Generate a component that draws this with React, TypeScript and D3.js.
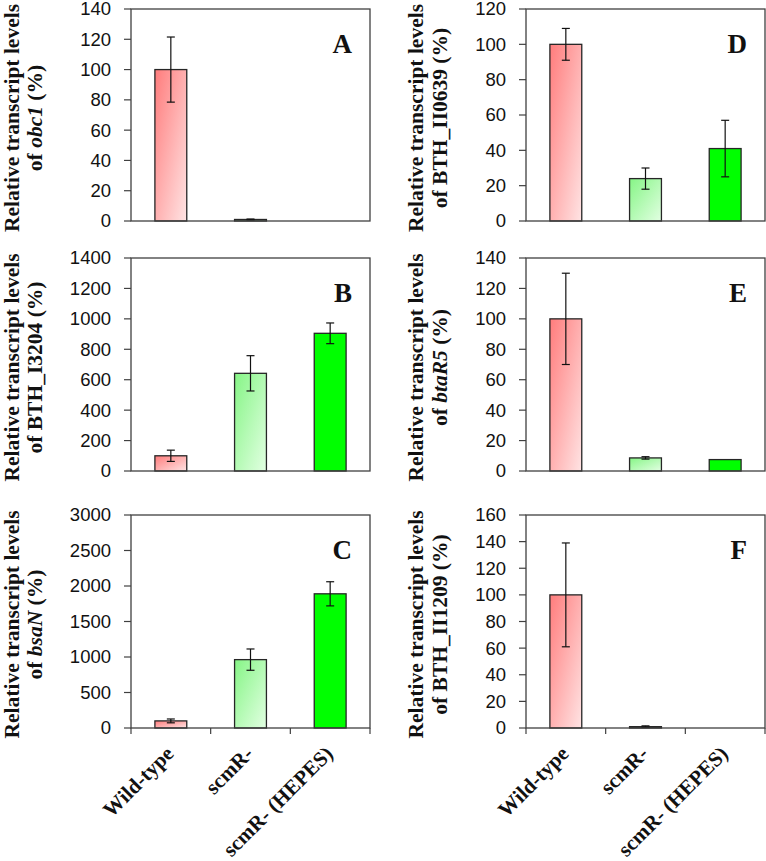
import React from "react";
import * as d3 from "d3";

const categories = ["Wild-type", "scmR-", "scmR- (HEPES)"];
const panelLetters = ["A", "B", "C", "D", "E", "F"];
const geneNames = ["obc1", "BTH_I3204", "bsaN", "BTH_II0639", "btaR5", "BTH_II1209"];
const geneItalic = [true, false, true, false, true, false];
const yMaxes = [140, 1400, 3000, 120, 140, 160];
const ySteps = [20, 200, 500, 20, 20, 20];

const meansA = [100, 1, 0];
const errsA = [21.5, 0.3, 0];
const meansB = [100, 642, 905];
const errsB = [37, 116, 68];
const meansC = [100, 963, 1890];
const errsC = [27, 150, 170];
const meansD = [100, 24, 41];
const errsD = [9, 6, 16];
const meansE = [100, 8.6, 7.5];
const errsE = [30, 0.8, 0];
const meansF = [100, 1, 0];
const errsF = [39, 0.6, 0];

const allMeans = [meansA, meansB, meansC, meansD, meansE, meansF];
const allErrs = [errsA, errsB, errsC, errsD, errsE, errsF];

const W = 766;
const H = 861;
const colLeft = [131, 526];
const plotW = 239;
const rowTop = [9, 258, 515];
const plotH = 213;
const labelBase1 = [19, 423];
const labelBase2 = [42, 447];

const fills = ["url(#gradWT)", "url(#gradScm)", "#00ff00"];
const frameColor = "#404040";
const tickFont = "'Liberation Sans', Arial, sans-serif";
const serif = "'Liberation Serif', 'Times New Roman', serif";

function Panel({ idx }: { idx: number }) {
  const col = idx < 3 ? 0 : 1;
  const row = idx % 3;
  const x0 = colLeft[col];
  const y0 = rowTop[row];
  const h = row === 0 ? plotH - 1 : plotH;
  const x = d3.scaleBand<string>().domain(categories).range([x0, x0 + plotW]).paddingInner(0.6).paddingOuter(0.3);
  const y = d3.scaleLinear().domain([0, yMaxes[idx]]).range([y0 + h, y0]);
  const ticks = d3.range(0, yMaxes[idx] + 0.001, ySteps[idx]);
  const means = allMeans[idx];
  const errs = allErrs[idx];
  const bottom = y0 + h;
  const cy = y0 + h / 2 + 3;
  const bw = x.bandwidth();
  const isBottom = row === 2;
  const boundaries = d3.range(0, categories.length + 1).map((i) => x0 + (plotW / categories.length) * i);
  return (
    <g>
      {categories.map((c, i) => {
        const top = y(means[i]);
        if (means[i] <= 0) return null;
        return (
          <rect key={c} x={x(c)} y={top} width={bw} height={Math.max(0, bottom - top)} fill={fills[i]} stroke="#262626" strokeWidth={1.3} />
        );
      })}
      {categories.map((c, i) => {
        if (!errs[i]) return null;
        const cx = (x(c) as number) + bw / 2;
        const yHi = y(means[i] + errs[i]);
        const yLo = y(Math.max(0, means[i] - errs[i]));
        return (
          <g key={c} stroke="#111" strokeWidth={1.2}>
            <line x1={cx} x2={cx} y1={yHi} y2={yLo} />
            <line x1={cx - 4} x2={cx + 4} y1={yHi} y2={yHi} />
            <line x1={cx - 4} x2={cx + 4} y1={yLo} y2={yLo} />
          </g>
        );
      })}
      <rect x={x0} y={y0} width={plotW} height={h} fill="none" stroke={frameColor} strokeWidth={1.3} />
      {ticks.map((t) => (
        <g key={t}>
          <line x1={x0 - 7} x2={x0} y1={y(t)} y2={y(t)} stroke={frameColor} strokeWidth={1.2} />
          <text x={x0 - 20} y={y(t)} dy="0.35em" textAnchor="end" fontFamily={tickFont} fontSize={18.5} fill="#111">
            {t}
          </text>
        </g>
      ))}
      {isBottom &&
        boundaries.map((b, i) => (
          <line key={i} x1={b} x2={b} y1={bottom} y2={bottom + 6} stroke={frameColor} strokeWidth={1.2} />
        ))}
      {isBottom &&
        categories.map((c) => {
          const cx = (x(c) as number) + bw / 2;
          return (
            <text
              key={c}
              transform={`translate(${cx + 4},${bottom + 27}) rotate(-45)`}
              textAnchor="end"
              fontFamily={serif}
              fontWeight="bold"
              fontSize={21}
              fill="#111"
            >
              {c}
            </text>
          );
        })}
      <text x={x0 + plotW - 18} y={y0 + 44} textAnchor="end" fontFamily={serif} fontWeight="bold" fontSize={27} fill="#111">
        {panelLetters[idx]}
      </text>
      <text
        transform={`translate(${labelBase1[col]},${cy}) rotate(-90)`}
        textAnchor="middle"
        fontFamily={serif}
        fontWeight="bold"
        fontSize={21.5}
        fill="#111"
      >
        Relative transcript levels
      </text>
      <text
        transform={`translate(${labelBase2[col]},${cy}) rotate(-90)`}
        textAnchor="middle"
        fontFamily={serif}
        fontWeight="bold"
        fontSize={21.5}
        fill="#111"
      >
        {"of "}
        <tspan fontStyle={geneItalic[idx] ? "italic" : "normal"}>{geneNames[idx]}</tspan>
        {" (%)"}
      </text>
    </g>
  );
}

export default function App() {
  return (
    <svg width={W} height={H} style={{ position: "absolute", left: 0, top: 0, background: "#fff" }}>
      <defs>
        <linearGradient id="gradWT" x1="0" y1="0" x2="1" y2="1">
          <stop offset="0" stopColor="#ff7c7c" />
          <stop offset="1" stopColor="#ffe4e4" />
        </linearGradient>
        <linearGradient id="gradScm" x1="0" y1="0" x2="1" y2="1">
          <stop offset="0" stopColor="#86f586" />
          <stop offset="1" stopColor="#e2ffe2" />
        </linearGradient>
      </defs>
      <rect width={W} height={H} fill="#fff" />
      {panelLetters.map((p, i) => (
        <Panel key={p} idx={i} />
      ))}
    </svg>
  );
}
